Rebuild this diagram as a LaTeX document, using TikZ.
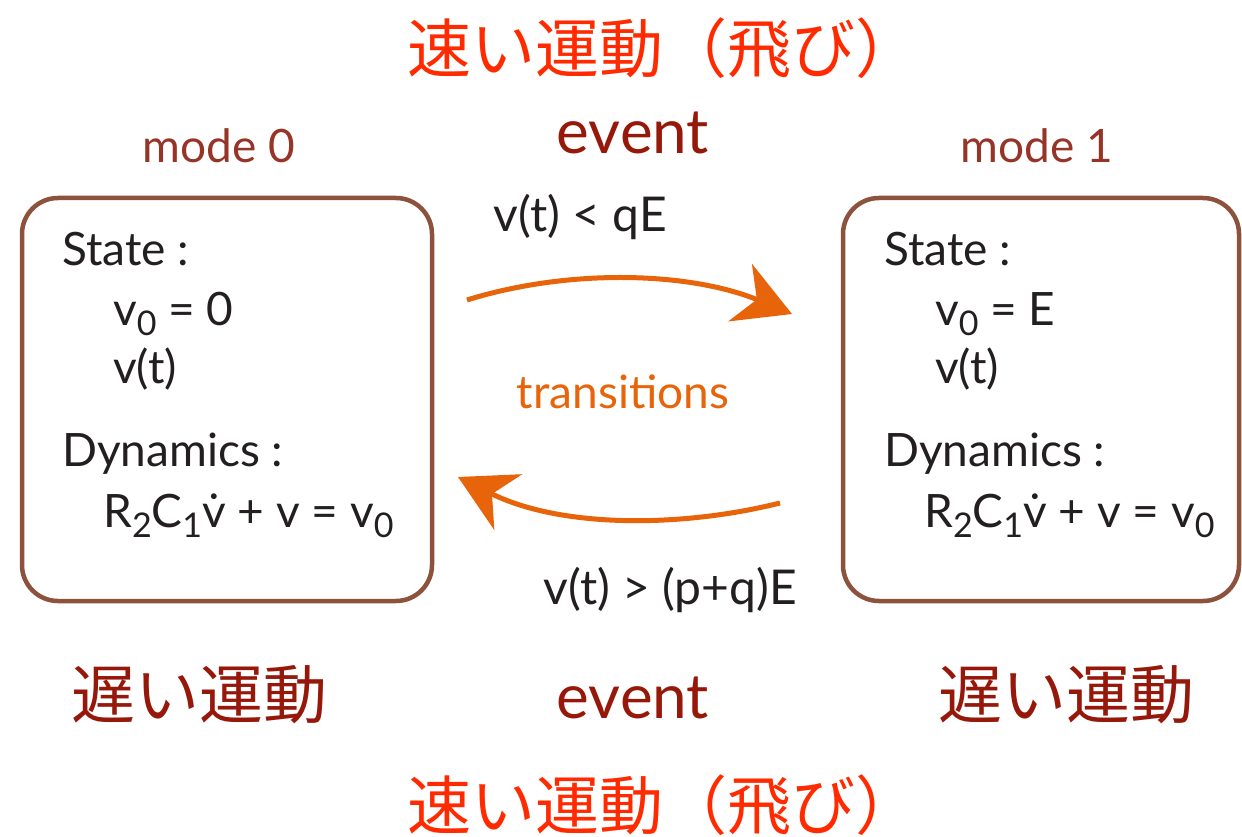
\documentclass[tikz,border=0pt]{standalone}
\usepackage{fontspec}
\setmainfont{Lato}
\newfontfamily\cjk{Noto Sans CJK JP}
\usetikzlibrary{arrows.meta}
\definecolor{fastred}{RGB}{255,42,0}
\definecolor{slowred}{RGB}{150,24,10}
\definecolor{modered}{RGB}{150,52,40}
\definecolor{boxbrown}{RGB}{140,82,60}
\definecolor{arrowor}{RGB}{232,100,10}
\definecolor{txt}{RGB}{35,31,32}
\newcommand{\lowsub}[1]{\raisebox{-0.22em}{\fontsize{34}{36}\selectfont #1}}
\tikzset{
  fast/.style={text=fastred,font=\cjk\fontsize{64}{66}\selectfont,inner sep=0pt},
  slow/.style={text=slowred,font=\cjk\fontsize{64}{66}\selectfont,inner sep=0pt},
  evt/.style={text=slowred,font=\fontsize{62}{64}\selectfont,inner sep=0pt},
  modelbl/.style={text=modered,font=\fontsize{46}{48}\selectfont,inner sep=0pt},
  modebox/.style={draw=boxbrown,line width=4.5pt,rounded corners=36pt},
  boxtxt/.style={text=txt,font=\fontsize{46}{48}\selectfont,inner sep=0pt,anchor=base west},
  cond/.style={text=txt,font=\fontsize{48}{50}\selectfont,inner sep=0pt},
  trans/.style={draw=arrowor,line width=5pt,-{Stealth[length=56pt,width=62pt,inset=18pt]}},
}
\begin{document}
\begin{tikzpicture}[x=1pt,y=-1pt]
\useasboundingbox (0,0) rectangle (1242,837);
% titles
\node[fast] (topfast) at (663,48) {速い運動（飛び）};
\node[fast] (botfast) at (663,805) {速い運動（飛び）};
\node[evt] (topevt) at (633,133) {event};
\node[evt] (botevt) at (633,698) {event};
\node[modelbl] (m0) at (219,146) {mode 0};
\node[modelbl] (m1) at (1037,146) {mode 1};
\node[slow] (slowl) at (199,695) {遅い運動};
\node[slow] (slowr) at (1066,695) {遅い運動};
% boxes
\draw[modebox] (22,198) rectangle (432,601);
\draw[modebox] (843,198) rectangle (1239,601);
\node[boxtxt] (s0) at (62,265) {State :};
\node[boxtxt] (v00) at (113,325) {v\lowsub{0} = 0};
\node[boxtxt] (vt0) at (113,383) {v(t)};
\node[boxtxt] (d0) at (62,466) {Dynamics :};
\node[boxtxt] (e0) at (103,527) {R\lowsub{2}C\lowsub{1}\.{v} + v = v\lowsub{0}};
\node[boxtxt] (s1) at (884,265) {State :};
\node[boxtxt] (v01) at (935,325) {v\lowsub{0} = E};
\node[boxtxt] (vt1) at (935,383) {v(t)};
\node[boxtxt] (d1) at (884,466) {Dynamics :};
\node[boxtxt] (e1) at (924,527) {R\lowsub{2}C\lowsub{1}\.{v} + v = v\lowsub{0}};
% conditions
\node[cond] (c1) at (580,217) {v(t) < qE};
\node[cond] (c2) at (670,590) {v(t) > (p+q)E};
\node[text=arrowor,font=\fontsize{46}{48}\selectfont,inner sep=0pt] (tr) at (623,392) {transitions};
% arrows
\coordinate (a1s) at (467,300);
\coordinate (a1e) at (792,314);
\coordinate (a2s) at (780,503);
\coordinate (a2e) at (458,477);
\draw[trans] (a1s) .. controls (570,268) and (690,272) .. (a1e);
\draw[trans] (a2s) .. controls (680,528) and (560,528) .. (a2e);
\end{tikzpicture}
\end{document}
